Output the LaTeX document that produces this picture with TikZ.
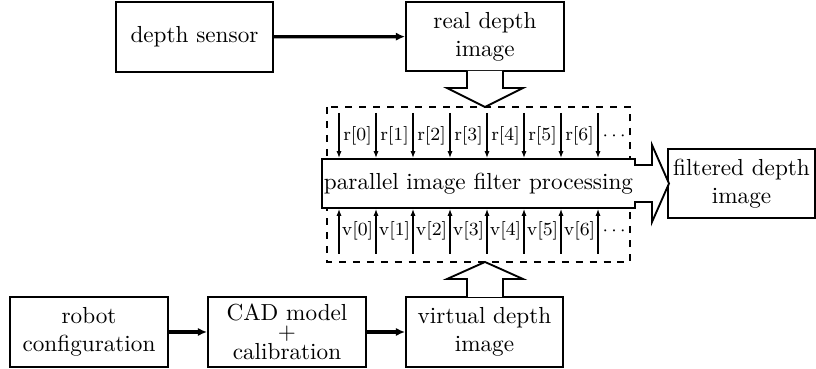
\documentclass[tikz,border=0pt]{standalone}
\usetikzlibrary{arrows.meta,calc}
\tikzset{
  box/.style={draw, line width=0.8pt, align=center, inner sep=1pt, font=\normalsize},
  flow/.style={line width=1.4pt, -{Latex[length=4pt,width=3.6pt]}},
  lane/.style={line width=0.5pt, -{Latex[length=3pt,width=2.2pt]}},
  hollow/.style={draw, line width=0.8pt, fill=white, line join=miter},
  lbl/.style={font=\footnotesize, inner sep=0pt}
}
\begin{document}
\begin{tikzpicture}[x=0.431pt, y=-0.431pt]
\useasboundingbox (0,0) rectangle (816,369);
% boxes
\node[box, minimum width={157*0.431pt}, minimum height={70*0.431pt}] (sensor) at (194.5,37) {depth sensor};
\node[box, minimum width={158*0.431pt}, minimum height={69*0.431pt}] (real) at (485,36.5) {real depth\\image};
\node[box, minimum width={158*0.431pt}, minimum height={70*0.431pt}] (robot) at (89,332) {robot\\configuration};
\node[box, inner sep=0pt, minimum width={158*0.431pt}, minimum height={70*0.431pt}] (cad) at (287,332) {CAD model\\[-4pt]+\\[-3pt]calibration};
\node[box, minimum width={157*0.431pt}, minimum height={70*0.431pt}] (virtual) at (484.5,332) {virtual depth\\image};
\node[box, minimum width={147*0.431pt}, minimum height={69*0.431pt}] (filtered) at (741.5,183.5) {filtered depth\\image};
% dashed frame
\draw[dashed, line width=0.5pt] (327,107) rectangle (630,262);
% main box
\node[box, fill=white, minimum width={311*0.431pt}, minimum height={49*0.431pt}] (main) at (478.5,183.5) {parallel image filter processing};
% flow arrows
\draw[flow] (sensor) -- (real);
\draw[flow] (robot) -- (cad);
\draw[flow] (cad) -- (virtual);
% hollow arrows
\draw[hollow] (467,71) -- (467,88) -- (447,88) -- (485,107) -- (523,88) -- (503,88) -- (503,71);
\draw[hollow] (467,297) -- (467,279) -- (447,279) -- (485,262) -- (523,279) -- (503,279) -- (503,297);
\draw[hollow] (634,165) -- (652,165) -- (652,145) -- (669,183.5) -- (652,222) -- (652,202) -- (634,202);
% lanes
\foreach \i in {0,...,7}{
  \coordinate (rt\i) at ({339+37*\i},113);
  \coordinate (vb\i) at ({339+37*\i},254);
  \draw[lane] (rt\i) -- (rt\i |- main.north);
  \draw[lane] (vb\i) -- (vb\i |- main.south);
}
\foreach \i in {0,...,6}{
  \node[lbl] (r\i) at ({357.5+37*\i},136) {r[\i]};
  \node[lbl] (v\i) at ({357.5+37*\i},231) {v[\i]};
}
\node[lbl] (rdots) at (614,136) {$\cdots$};
\node[lbl] (vdots) at (614,231) {$\cdots$};
\end{tikzpicture}
\end{document}
